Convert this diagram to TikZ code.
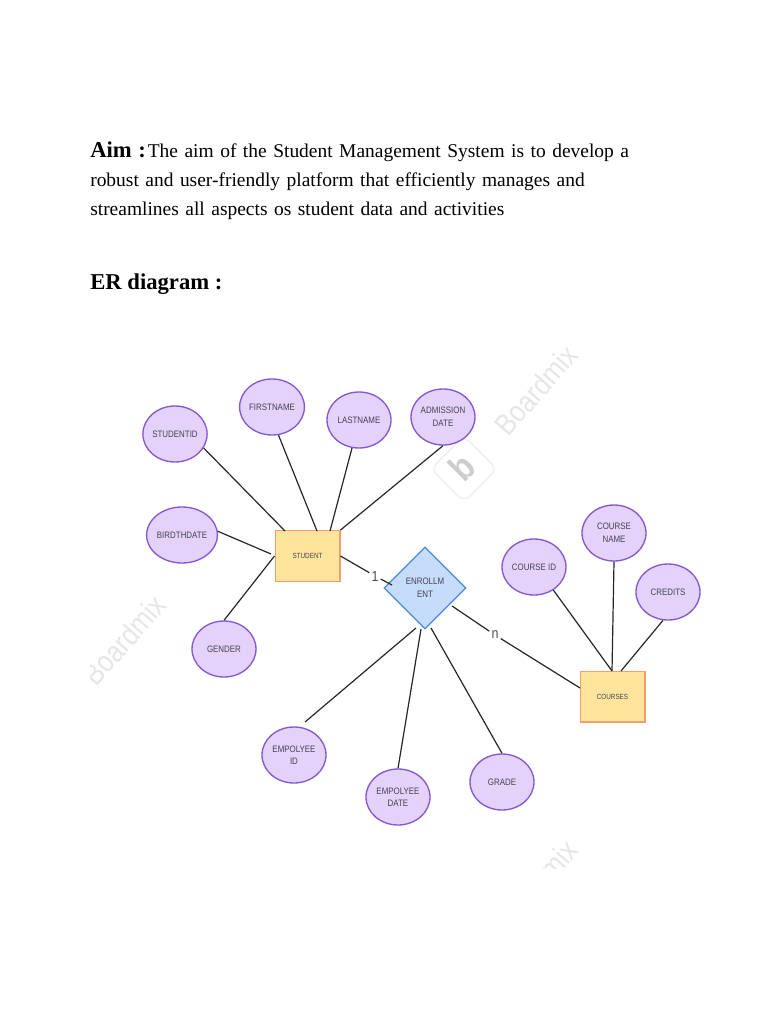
\documentclass[tikz,border=0pt]{standalone}
\usepackage{fontspec}
\setmainfont{Liberation Serif}
\setsansfont[FakeStretch=0.85]{Liberation Sans}
\usetikzlibrary{shapes}
\definecolor{attrcolor}{RGB}{228,210,251}
\definecolor{attrline}{RGB}{132,88,208}
\definecolor{entitycolor}{RGB}{255,228,156}
\definecolor{entityline}{RGB}{240,160,112}
\definecolor{relcolor}{RGB}{197,220,251}
\definecolor{relline}{RGB}{74,140,214}
\definecolor{labelcolor}{RGB}{70,66,84}
\definecolor{markcolor}{RGB}{230,230,230}
\definecolor{logocolor}{RGB}{205,205,205}
\tikzset{
  attr/.style={draw=attrline,line width=1pt,fill=attrcolor,ellipse,inner sep=0pt,
    minimum width=48pt,minimum height=42pt,align=center,font=\sffamily\fontsize{7}{9.4}\selectfont,text=labelcolor},
  entity/.style={draw=entityline,line width=1pt,fill=entitycolor,minimum width=48.5pt,minimum height=38pt,
    inner sep=0pt,font=\sffamily\fontsize{5.6}{7}\selectfont,text=labelcolor},
  rel/.style={draw=relline,line width=1pt,fill=relcolor,diamond,aspect=1,inner sep=0pt,
    minimum width=61.5pt,minimum height=61.5pt,align=center,font=\sffamily\fontsize{7}{9.4}\selectfont,text=labelcolor},
  link/.style={draw=black!85,line width=0.9pt},
  card/.style={inner sep=1.5pt,font=\sffamily\fontsize{11}{12}\selectfont,text=black!70},
  watermark/.style={rotate=49,font=\sffamily\fontsize{22.5}{25}\selectfont,text=markcolor}
}

\begin{document}
\begin{tikzpicture}[x=0.75pt,y=-0.75pt]
\useasboundingbox (0,0) rectangle (768,1024);

% -------- Text above the diagram --------
\node[anchor=north west,inner sep=0pt,text width=500pt,align=left,
font=\fontsize{14.6}{21.4}\selectfont] (aimtext) at (90,142)
{{\fontsize{17}{21.4}\selectfont\bfseries Aim :}\kern1.5pt The aim of the Student Management System is to develop a\\
robust and user-friendly platform that efficiently manages and\\
streamlines all aspects os student data and activities};

\node[anchor=base west,inner sep=0pt,font=\fontsize{17}{21}\selectfont\bfseries] (ertitle) at (90,289) {ER diagram :};

% -------- Watermarks --------
\begin{scope}
\clip (90,320) rectangle (700,868);
\node[watermark] (markone) at (536,390) {Boardmix};
\node[watermark] (marktwo) at (124,640) {Boardmix};
\node[watermark] (markthree) at (536,885) {Boardmix};
\node[draw=markcolor!60,line width=1.2pt,diamond,aspect=1,rounded corners=6pt,minimum width=50pt,minimum height=50pt,inner sep=0pt] (logo) at (464,469) {};
\node[rotate=45,font=\sffamily\bfseries\fontsize{28}{28}\selectfont,text=logocolor] (logob) at (462,467) {b};
\end{scope}

% -------- Entities and relationship --------
\node[entity] (student) at (307.5,556) {STUDENT};
\node[entity] (courses) at (612.5,696.5) {COURSES};
\node[rel] (enroll) at (425,588) {ENROLLM\\ENT};

% -------- Attributes --------
\node[attr] (studentid) at (175,434) {STUDENTID};
\node[attr] (firstname) at (272,407) {FIRSTNAME};
\node[attr] (lastname) at (359,420) {LASTNAME};
\node[attr] (admission) at (443,417) {ADMISSION\\DATE};
\node[attr,minimum width=52pt] (birthdate) at (182,535) {BIRDTHDATE};
\node[attr] (gender) at (224,649) {GENDER};
\node[attr] (courseid) at (534,567) {COURSE ID};
\node[attr] (coursename) at (614,533) {COURSE\\NAME};
\node[attr] (credits) at (668,592) {CREDITS};
\node[attr] (empid) at (294,755) {EMPOLYEE\\ID};
\node[attr] (empdate) at (398,797) {EMPOLYEE\\DATE};
\node[attr] (grade) at (502,782) {GRADE};

% -------- Cardinality labels --------
\node[card] (one) at (375,576) {1};
\node[card] (many) at (495,635) {n};

% -------- Free ends of the connectors --------
\coordinate (studenta) at (285,531);
\coordinate (studentb) at (317,531);
\coordinate (studentc) at (330,531);
\coordinate (studentd) at (271,554);
\coordinate (enrolla) at (392,585);
\coordinate (enrollb) at (452,606);
\coordinate (enrollc) at (416,628);
\coordinate (enrolld) at (421,629);
\coordinate (enrolle) at (431,628);
\coordinate (empidend) at (305,722);
\coordinate (coursesa) at (612,671);
\coordinate (coursesb) at (621,671);
\coordinate (coursesc) at (580,688);

% -------- Connectors --------
\draw[link] (studentid.-26) -- (studenta);
\draw[link] (firstname.-77) -- (studentb);
\draw[link] (lastname.-104) -- (studentc);
\draw[link] (admission.south) -- (student.north east);
\draw[link] (birthdate.6) -- (studentd);
\draw[link] (gender.north) -- (student.west);
\draw[link] (student.east) -- (one);
\draw[link] (one) -- (enrolla);
\draw[link] (enrollb) -- (many);
\draw[link] (many) -- (coursesc);
\draw[link] (enrollc) -- (empidend);
\draw[link] (enrolld) -- (empdate.north);
\draw[link] (enrolle) -- (grade.north);
\draw[link] (courseid.-50) -- (coursesa);
\draw[link] (coursename.south) -- (coursesa);
\draw[link] (credits.-100) -- (coursesb);

\end{tikzpicture}
\end{document}
